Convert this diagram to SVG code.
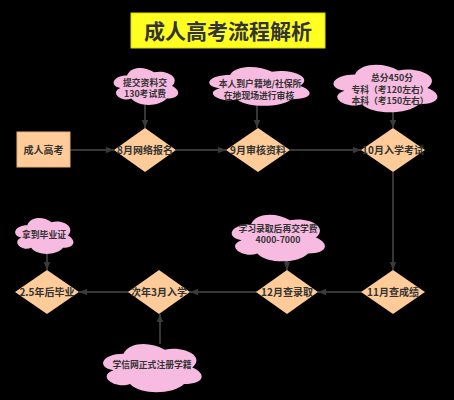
<svg xmlns="http://www.w3.org/2000/svg" xmlns:xlink="http://www.w3.org/1999/xlink" width="454" height="400" viewBox="0 0 454 400">
<style>
text{font-family:"Noto Sans CJK SC","Noto Sans",sans-serif;font-weight:bold;fill:#333;text-anchor:middle}
.t{font-size:10px}
.c{font-size:8.8px}
.dia{fill:#FFCC99}
.cloud{fill:#F7BBE1}
.e{stroke:#4a4a4a;stroke-width:1.5;fill:none;marker-end:url(#ah)}
</style>
<defs>
<marker id="ah" markerUnits="userSpaceOnUse" markerWidth="8" markerHeight="8" viewBox="0 0 8 8" refX="8" refY="4" orient="auto">
<path d="M0,0.8 L8,4 L0,7.2 Z" fill="#3a3a3a"/>
</marker>
<symbol id="cl" viewBox="0 0 120 80" preserveAspectRatio="none">
<path d="M30 20 C6 20 0 40 19.2 44 C0 52.8 21.6 72 37.2 64 C48 80 84 80 96 64 C120 64 120 48 105 40 C120 24 96 8 75 14 C60 2 36 2 30 20 Z"/>
</symbol>
</defs>
<rect width="454" height="400" fill="#000"/>
<g id="title">
<rect x="131" y="13" width="194" height="35" fill="#FFFF22" stroke="#d9d900" stroke-width="1"/>
<text x="228" y="38.5" style="font-size:21px">成人高考流程解析</text>
</g>
<g id="connectors">
<line class="e" x1="70" y1="150" x2="114" y2="150"/>
<line class="e" x1="176" y1="150" x2="226" y2="150"/>
<line class="e" x1="290" y1="150" x2="361" y2="150"/>
<line class="e" x1="393" y1="172" x2="393" y2="270"/>
<line class="e" x1="362" y1="292" x2="318" y2="292"/>
<line class="e" x1="257" y1="292" x2="190" y2="292"/>
<line class="e" x1="129" y1="292" x2="79" y2="292"/>
<line class="e" x1="145" y1="102" x2="145" y2="128"/>
<line class="e" x1="257" y1="102" x2="257" y2="128"/>
<line class="e" x1="393" y1="110" x2="393" y2="128"/>
<line class="e" x1="47" y1="252" x2="47" y2="270"/>
<line class="e" x1="287" y1="261" x2="287" y2="270"/>
<line class="e" x1="160" y1="344" x2="160" y2="314"/>
</g>
<g id="n-start">
<rect x="17" y="132" width="53" height="35" fill="#FFCC99" stroke="#E6B080" stroke-width="1"/>
<text class="t" x="43.5" y="153.5">成人高考</text>
</g>
<g id="n-d1">
<polygon class="dia" points="145,128 176,150 145,172 114,150"/>
<text class="t" x="145" y="153.5">8月网络报名</text>
</g>
<g id="n-d2">
<polygon class="dia" points="258,128 290,150 258,172 226,150"/>
<text class="t" x="258" y="153.5">9月审核资料</text>
</g>
<g id="n-d3">
<polygon class="dia" points="393,128 425,150 393,172 361,150"/>
<text class="t" x="393" y="153.5">10月入学考试</text>
</g>
<g id="n-d4">
<polygon class="dia" points="393,270 425,292 393,314 361,292"/>
<text class="t" x="393" y="295.5">11月查成绩</text>
</g>
<g id="n-d5">
<polygon class="dia" points="287,270 318,292 287,314 256,292"/>
<text class="t" x="287" y="295.5">12月查录取</text>
</g>
<g id="n-d6">
<polygon class="dia" points="159,270 190,292 159,314 128,292"/>
<text class="t" x="159" y="295.5">次年3月入学</text>
</g>
<g id="n-d7">
<polygon class="dia" points="47,270 79,292 47,314 15,292"/>
<text class="t" x="47" y="295.5">2.5年后毕业</text>
</g>
<g id="n-c1">
<use xlink:href="#cl" class="cloud" x="109" y="65" width="72" height="42"/>
<text class="c" x="145" y="85.5">提交资料交</text>
<text class="c" x="145" y="97">130考试费</text>
</g>
<g id="n-c2">
<use xlink:href="#cl" class="cloud" x="202" y="64" width="112" height="44"/>
<text class="c" x="260" y="87">本人到户籍地/社保所</text>
<text class="c" x="259" y="98.5">在地现场进行审核</text>
</g>
<g id="n-c3">
<use xlink:href="#cl" class="cloud" x="326" y="61" width="116" height="54"/>
<text class="c" x="392" y="81">总分450分</text>
<text class="c" x="390" y="92.5">专科（考120左右）</text>
<text class="c" x="390" y="104">本科（考150左右）</text>
</g>
<g id="n-c4">
<use xlink:href="#cl" class="cloud" x="11" y="215" width="65" height="41"/>
<text class="c" x="44" y="238">拿到毕业证</text>
</g>
<g id="n-c5">
<use xlink:href="#cl" class="cloud" x="225" y="211" width="104" height="53"/>
<text class="c" x="278" y="231.5">学习录取后再交学费</text>
<text class="c" x="278" y="243">4000-7000</text>
</g>
<g id="n-c6">
<use xlink:href="#cl" class="cloud" x="96" y="340" width="110" height="55"/>
<text class="c" x="152" y="368">学信网正式注册学籍</text>
</g>
</svg>
